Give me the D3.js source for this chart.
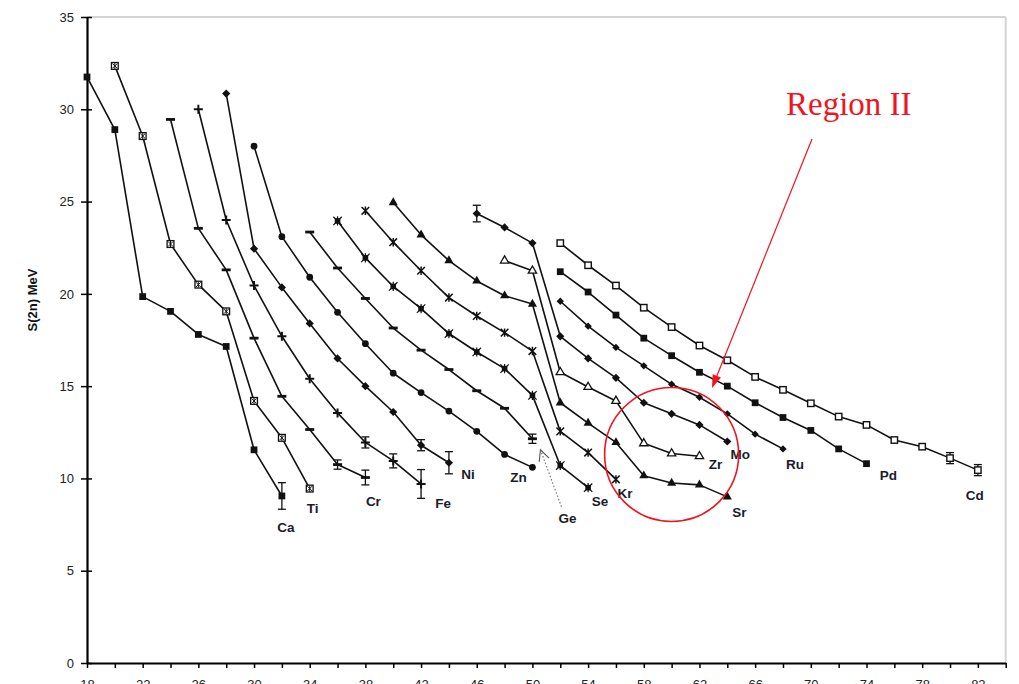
<!DOCTYPE html>
<html>
<head>
<meta charset="utf-8">
<script src="https://cdn.jsdelivr.net/npm/d3@7"></script>
<style>
  html, body { margin: 0; padding: 0; background: #fff; }
  svg { display: block; }
</style>
</head>
<body>
<svg id="chart" width="1019" height="684"></svg>
<script>
// Two-neutron separation energies S(2n) along isotopic chains, plotted against neutron number N.
const elements = ["Ca", "Ti", "Cr", "Fe", "Ni", "Zn", "Ge", "Se", "Kr", "Sr", "Zr", "Mo", "Ru", "Pd", "Cd"];
const firstN   = [18, 20, 24, 26, 28, 30, 34, 36, 38, 40, 48, 46, 52, 52, 52];

// S(2n) in MeV for even N, starting at firstN and stepping by 2
const sCa = [31.75, 28.9, 19.85, 19.05, 17.8, 17.15, 11.55, 9.05];
const sTi = [32.35, 28.55, 22.7, 20.5, 19.05, 14.2, 12.2, 9.45];
const sCr = [29.45, 23.55, 21.3, 17.6, 14.45, 12.65, 10.75, 10.05];
const sFe = [30.0, 24.0, 20.45, 17.7, 15.4, 13.55, 11.95, 10.95, 9.7];
const sNi = [30.85, 22.45, 20.35, 18.4, 16.5, 15.0, 13.6, 11.8, 10.85];
const sZn = [28.0, 23.1, 20.9, 19.0, 17.3, 15.7, 14.65, 13.65, 12.55, 11.3, 10.6];
const sGe = [23.35, 21.4, 19.75, 18.15, 16.95, 15.9, 14.75, 13.8, 12.15];
const sSe = [23.95, 21.95, 20.4, 19.2, 17.85, 16.85, 15.95, 14.5, 10.7, 9.5];
const sKr = [24.5, 22.8, 21.25, 19.8, 18.8, 17.9, 16.9, 12.55, 11.4, 9.95];
const sSr = [24.95, 23.2, 21.8, 20.7, 19.9, 19.45, 14.1, 13.0, 11.95, 10.15, 9.75, 9.65, 9.0];
const sZr = [21.8, 21.25, 15.75, 14.95, 14.2, 11.9, 11.35, 11.2];
const sMo = [24.35, 23.6, 22.75, 17.7, 16.5, 15.45, 14.1, 13.5, 12.9, 12.0];
const sRu = [19.6, 18.25, 17.1, 16.1, 15.1, 14.4, 13.5, 12.4, 11.6];
const sPd = [21.2, 20.1, 18.85, 17.6, 16.65, 15.75, 15.0, 14.1, 13.3, 12.6, 11.6, 10.8];
const sCd = [22.75, 21.55, 20.45, 19.25, 18.2, 17.2, 16.4, 15.5, 14.8, 14.07, 13.35, 12.9, 12.08, 11.72, 11.1, 10.45];
const values = [sCa, sTi, sCr, sFe, sNi, sZn, sGe, sSe, sKr, sSr, sZr, sMo, sRu, sPd, sCd];

// Uncertainties (element, N, +/- MeV)
const errEl = ["Ca", "Cr", "Cr", "Fe", "Fe", "Fe", "Ni", "Ni", "Ge", "Mo", "Cd", "Cd"];
const errN  = [32, 36, 38, 38, 40, 42, 42, 44, 50, 46, 80, 82];
const errDv = [0.72, 0.25, 0.4, 0.3, 0.38, 0.78, 0.3, 0.6, 0.25, 0.45, 0.3, 0.3];

// Axis ticks
const yTicks = [0, 5, 10, 15, 20, 25, 30, 35];
const xTicks = d3.range(18, 85, 2);
const xLabels = d3.range(18, 83, 4);

// ---- styling ----
const markerKind = ["sqFill", "sqCross", "dash", "plus", "diamond", "circle", "dash", "sqStar",
                    "star", "triFill", "triOpen", "diamond", "diamondSm", "sqFill", "sqOpen"];
// label offsets from each chain's last point (px)
const labelDx = [4, 3, 8, 22, 19, -14, 35, 12, 9, 12, 16, 13, 12, 22, -3];
const labelDy = [32, 20, 24, 20, 12, 10, 80, 14, 14, 16, 8, 13, 16, 12, 25];

const svg = d3.select("#chart");
const x = d3.scaleLinear().domain([18, 84]).range([87, 1005.7]);
const y = d3.scaleLinear().domain([0, 35]).range([663, 17]);
const font = "Arial, 'Liberation Sans', sans-serif";

// plot-area border (top and right)
svg.append("line").attr("x1", x(18)).attr("x2", x(84)).attr("y1", y(35)).attr("y2", y(35))
  .attr("stroke", "#d4d4d4").attr("stroke-width", 2);
svg.append("line").attr("x1", x(84)).attr("x2", x(84)).attr("y1", y(35)).attr("y2", y(0))
  .attr("stroke", "#d4d4d4").attr("stroke-width", 2);

// axes
const yAxis = svg.append("g").attr("transform", `translate(${x(18)},0)`)
  .call(d3.axisLeft(y).tickValues(yTicks).tickSizeInner(6).tickSizeOuter(0).tickPadding(7));
yAxis.selectAll(".tick line").attr("x1", 5).attr("stroke-width", 1.5);
yAxis.select(".domain").attr("stroke-width", 2.2);
yAxis.selectAll("text").attr("font-family", font).attr("font-size", 13).attr("fill", "#222");

const xAxis = svg.append("g").attr("transform", `translate(0,${y(0)})`)
  .call(d3.axisBottom(x).tickValues(xTicks).tickSizeInner(5).tickSizeOuter(0).tickPadding(12)
    .tickFormat(d => xLabels.includes(d) ? d : ""));
xAxis.selectAll(".tick line").attr("stroke-width", 1.5);
xAxis.select(".domain").attr("stroke-width", 2.2);
xAxis.selectAll("text").attr("font-family", font).attr("font-size", 13).attr("fill", "#222");

// y-axis title
svg.append("text")
  .attr("transform", `translate(37,${(y(0) + y(35)) / 2 - 40}) rotate(-90)`)
  .attr("text-anchor", "middle")
  .attr("font-family", font)
  .attr("font-weight", "bold").attr("font-size", 13).attr("fill", "#111")
  .text("S(2n) MeV");

// build point lists
const chains = elements.map((el, i) => ({
  el, kind: markerKind[i],
  pts: values[i].map((s, k) => ({ n: firstN[i] + 2 * k, s }))
}));

const line = d3.line().x(d => x(d.n)).y(d => y(d.s));
const gLines = svg.append("g");
chains.forEach(c => {
  gLines.append("path").datum(c.pts).attr("d", line)
    .attr("fill", "none").attr("stroke", "#111").attr("stroke-width", 1.6)
    .attr("stroke-linejoin", "round");
});

// error bars
const gErr = svg.append("g").attr("stroke", "#111").attr("stroke-width", 1.3);
errEl.forEach((el, i) => {
  const c = chains[elements.indexOf(el)];
  const p = c.pts.find(d => d.n === errN[i]);
  const cx = x(p.n), y1 = y(p.s + errDv[i]), y2 = y(p.s - errDv[i]);
  gErr.append("line").attr("x1", cx).attr("x2", cx).attr("y1", y1).attr("y2", y2);
  gErr.append("line").attr("x1", cx - 4).attr("x2", cx + 4).attr("y1", y1).attr("y2", y1);
  gErr.append("line").attr("x1", cx - 4).attr("x2", cx + 4).attr("y1", y2).attr("y2", y2);
});

// markers
const sym = (type, size) => d3.symbol().type(type).size(size)();
function drawMarker(g, kind) {
  const ink = "#111";
  switch (kind) {
    case "sqFill":
      g.append("path").attr("d", sym(d3.symbolSquare, 46)).attr("fill", ink); break;
    case "sqOpen":
      g.append("rect").attr("x", -3.2).attr("y", -3.2).attr("width", 6.4).attr("height", 6.4)
        .attr("fill", "#fff").attr("stroke", ink).attr("stroke-width", 1.4); break;
    case "sqCross":
      g.append("rect").attr("x", -3.4).attr("y", -3.4).attr("width", 6.8).attr("height", 6.8)
        .attr("fill", "#fff").attr("stroke", ink).attr("stroke-width", 1.3);
      g.append("path").attr("d", "M-2.4,-2.4L2.4,2.4M-2.4,2.4L2.4,-2.4M0,-3L0,3")
        .attr("stroke", ink).attr("stroke-width", 1); break;
    case "sqStar":
      g.append("rect").attr("x", -2.8).attr("y", -2.8).attr("width", 5.6).attr("height", 5.6).attr("fill", ink);
      g.append("path").attr("d", "M-4.2,-4.2L4.2,4.2M-4.2,4.2L4.2,-4.2M0,-4.6L0,4.6")
        .attr("stroke", ink).attr("stroke-width", 1.2); break;
    case "dash":
      g.append("rect").attr("x", -4.5).attr("y", -1.4).attr("width", 9).attr("height", 2.8).attr("fill", ink); break;
    case "plus":
      g.append("path").attr("d", "M-4.5,0L4.5,0M0,-4.5L0,4.5").attr("stroke", ink).attr("stroke-width", 2); break;
    case "diamond":
      g.append("rect").attr("x", -2.9).attr("y", -2.9).attr("width", 5.8).attr("height", 5.8)
        .attr("transform", "rotate(45)").attr("fill", ink); break;
    case "diamondSm":
      g.append("rect").attr("x", -2.6).attr("y", -2.6).attr("width", 5.2).attr("height", 5.2)
        .attr("transform", "rotate(45)").attr("fill", ink); break;
    case "circle":
      g.append("path").attr("d", sym(d3.symbolCircle, 36)).attr("fill", ink); break;
    case "star":
      g.append("path").attr("d", "M-3.8,-3.8L3.8,3.8M-3.8,3.8L3.8,-3.8M0,-4.2L0,4.2")
        .attr("stroke", ink).attr("stroke-width", 1.5); break;
    case "triFill":
      g.append("path").attr("d", sym(d3.symbolTriangle, 36)).attr("fill", ink); break;
    case "triOpen":
      g.append("path").attr("d", sym(d3.symbolTriangle, 30)).attr("fill", "#fff")
        .attr("stroke", ink).attr("stroke-width", 1.3); break;
  }
}
const gMarks = svg.append("g");
chains.forEach(c => {
  c.pts.forEach(p => {
    const g = gMarks.append("g").attr("transform", `translate(${x(p.n)},${y(p.s)})`);
    drawMarker(g, c.kind);
  });
});

// element labels at the end of each chain
const gLab = svg.append("g").attr("font-family", font)
  .attr("font-weight", "bold").attr("font-size", 13.5).attr("fill", "#1b1b2a")
  .attr("text-anchor", "middle").attr("dominant-baseline", "central");
chains.forEach((c, i) => {
  const last = c.pts[c.pts.length - 1];
  c.lx = x(last.n) + labelDx[i];
  c.ly = y(last.s) + labelDy[i];
  gLab.append("text").attr("x", c.lx).attr("y", c.ly).text(c.el);
});

// dotted pointer from the Ge label to its last point
const ge = chains[elements.indexOf("Ge")];
const geLast = ge.pts[ge.pts.length - 1];
const tip = [x(geLast.n) + 8, y(geLast.s) + 11];
const tail = [ge.lx - 6, ge.ly - 12];
svg.append("line").attr("x1", tail[0]).attr("y1", tail[1]).attr("x2", tip[0]).attr("y2", tip[1])
  .attr("stroke", "#777").attr("stroke-width", 1.2).attr("stroke-dasharray", "1.5,2");
{
  const dx = tail[0] - tip[0], dy = tail[1] - tip[1], L = Math.hypot(dx, dy);
  const ux = dx / L, uy = dy / L, a = 26 * Math.PI / 180, len = 12;
  const r1 = [ux * Math.cos(a) - uy * Math.sin(a), ux * Math.sin(a) + uy * Math.cos(a)];
  const r2 = [ux * Math.cos(-a) - uy * Math.sin(-a), ux * Math.sin(-a) + uy * Math.cos(-a)];
  svg.append("path")
    .attr("d", `M${tip[0] + r1[0] * len},${tip[1] + r1[1] * len}L${tip[0]},${tip[1]}L${tip[0] + r2[0] * len},${tip[1] + r2[1] * len}`)
    .attr("fill", "none").attr("stroke", "#555").attr("stroke-width", 1.1);
}

// Region II annotation
const red = "#f0141e";
const cCenter = [x(60), y(11.3)];
svg.append("circle").attr("cx", cCenter[0]).attr("cy", cCenter[1]).attr("r", 67)
  .attr("fill", "none").attr("stroke", red).attr("stroke-width", 1.6);
svg.append("text").attr("x", 786).attr("y", 115)
  .attr("font-family", "'Liberation Serif', 'Times New Roman', serif")
  .attr("font-size", 33).attr("fill", red).text("Region II");
{
  const from = [812, 139], to = [712, 388];
  const dx = to[0] - from[0], dy = to[1] - from[1], L = Math.hypot(dx, dy);
  const ux = dx / L, uy = dy / L, px = -uy, py = ux, hl = 13, hw = 4.5;
  const base = [to[0] - ux * hl, to[1] - uy * hl];
  svg.append("line").attr("x1", from[0]).attr("y1", from[1]).attr("x2", base[0]).attr("y2", base[1])
    .attr("stroke", red).attr("stroke-width", 1.2);
  svg.append("path")
    .attr("d", `M${to[0]},${to[1]}L${base[0] + px * hw},${base[1] + py * hw}L${base[0] - px * hw},${base[1] - py * hw}Z`)
    .attr("fill", red);
}
</script>
</body>
</html>
